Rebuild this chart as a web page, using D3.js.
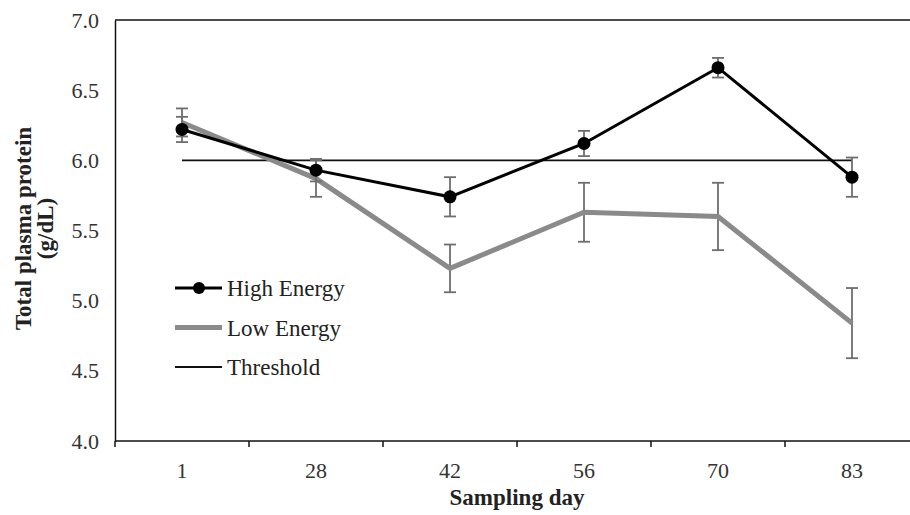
<!DOCTYPE html>
<html>
<head>
<meta charset="utf-8">
<script src="https://cdn.jsdelivr.net/npm/d3@7"></script>
<style>
  body { margin: 0; background: #fff; }
  text { font-family: "Liberation Serif", "Times New Roman", serif; }
</style>
</head>
<body>
<div id="chart"></div>
<script>
// sampling days and series
const days = ["1", "28", "42", "56", "70", "83"];
const highEnergy = [6.22, 5.93, 5.74, 6.12, 6.66, 5.88];
const highErr = [0.09, 0.08, 0.14, 0.09, 0.07, 0.14];
const lowEnergy = [6.27, 5.87, 5.23, 5.63, 5.60, 4.84];
const lowErr = [0.10, 0.13, 0.17, 0.21, 0.24, 0.25];
const threshold = [6.0, 6.0, 6.0, 6.0, 6.0, 6.0];
const yTicks = [4.0, 4.5, 5.0, 5.5, 6.0, 6.5, 7.0];

const margin = {top: 20, right: -9, bottom: 74, left: 115},
    width = 910 - margin.left - margin.right,
    height = 515 - margin.top - margin.bottom;

const svg = d3.select("#chart")
  .append("svg")
    .attr("width", 910)
    .attr("height", 515)
  .append("g")
    .attr("transform", `translate(${margin.left},${margin.top})`);

const x = d3.scaleBand()
    .domain(days)
    .range([0, width]);

const y = d3.scaleLinear()
    .domain([4, 7])
    .range([height, 0]);

const cx = d => x(d) + x.bandwidth() / 2;

// frame (top and left)
svg.append("line")
    .attr("x1", 0).attr("x2", width)
    .attr("y1", 0).attr("y2", 0)
    .attr("stroke", "#111").attr("stroke-width", 1.5);

svg.append("g")
    .call(d3.axisLeft(y).tickValues(yTicks).tickFormat(d3.format(".1f")).tickSize(0).tickPadding(16))
    .call(g => g.select(".domain").attr("stroke", "#111").attr("stroke-width", 1.5))
    .call(g => g.selectAll("text")
        .attr("font-family", "Liberation Serif")
        .attr("font-size", "22px")
        .attr("fill", "#333"));

// x axis with ticks at category boundaries
const xAxis = svg.append("g")
    .attr("transform", `translate(0,${height})`);
xAxis.append("line")
    .attr("x1", 0).attr("x2", width)
    .attr("stroke", "#111").attr("stroke-width", 1.5);
xAxis.selectAll(".bound")
  .data(days)
  .enter()
  .append("line")
    .attr("x1", d => x(d)).attr("x2", d => x(d))
    .attr("y1", 0).attr("y2", 6)
    .attr("stroke", "#111").attr("stroke-width", 1.5);
xAxis.selectAll(".lbl")
  .data(days)
  .enter()
  .append("text")
    .attr("x", d => cx(d))
    .attr("y", 37)
    .attr("text-anchor", "middle")
    .attr("font-size", "22px")
    .attr("fill", "#333")
    .text(d => d);

// threshold
svg.append("path")
    .datum(threshold)
    .attr("d", d3.line().x((d, i) => cx(days[i])).y(d => y(d)))
    .attr("fill", "none")
    .attr("stroke", "#111")
    .attr("stroke-width", 1.8);

function errorBars(values, errs) {
  const g = svg.append("g")
      .attr("stroke", "#6e6e6e")
      .attr("stroke-width", 1.8);
  values.forEach((v, i) => {
    const px = cx(days[i]);
    g.append("line")
        .attr("x1", px).attr("x2", px)
        .attr("y1", y(v + errs[i])).attr("y2", y(v - errs[i]));
    [v + errs[i], v - errs[i]].forEach(e => {
      g.append("line")
          .attr("x1", px - 6).attr("x2", px + 6)
          .attr("y1", y(e)).attr("y2", y(e));
    });
  });
}

// low energy
errorBars(lowEnergy, lowErr);
svg.append("path")
    .datum(lowEnergy)
    .attr("d", d3.line().x((d, i) => cx(days[i])).y(d => y(d)))
    .attr("fill", "none")
    .attr("stroke", "#8a8a8a")
    .attr("stroke-width", 5);

// high energy
errorBars(highEnergy, highErr);
svg.append("path")
    .datum(highEnergy)
    .attr("d", d3.line().x((d, i) => cx(days[i])).y(d => y(d)))
    .attr("fill", "none")
    .attr("stroke", "#000")
    .attr("stroke-width", 3);
svg.selectAll(".dot")
  .data(highEnergy)
  .enter()
  .append("circle")
    .attr("cx", (d, i) => cx(days[i]))
    .attr("cy", d => y(d))
    .attr("r", 6.5)
    .attr("fill", "#000");

// legend
const legend = svg.append("g").attr("transform", "translate(60,268)");
const items = [
  {name: "High Energy", color: "#000", w: 3, dot: true},
  {name: "Low Energy", color: "#8a8a8a", w: 5, dot: false},
  {name: "Threshold", color: "#111", w: 1.8, dot: false}
];
items.forEach((it, i) => {
  const g = legend.append("g").attr("transform", `translate(0,${i * 39.5})`);
  g.append("line")
      .attr("x1", 0).attr("x2", 47)
      .attr("stroke", it.color).attr("stroke-width", it.w);
  if (it.dot) g.append("circle").attr("cx", 24).attr("r", 6).attr("fill", "#000");
  g.append("text")
      .attr("x", 52).attr("y", 8)
      .attr("font-size", "23px")
      .attr("fill", "#222")
      .text(it.name);
});

// axis titles
svg.append("text")
    .attr("x", 402)
    .attr("y", height + 64)
    .attr("text-anchor", "middle")
    .attr("font-size", "23px")
    .attr("font-weight", "bold")
    .attr("fill", "#222")
    .text("Sampling day");

const yt = svg.append("text")
    .attr("transform", `translate(-84,${height / 2 - 2}) rotate(-90)`)
    .attr("text-anchor", "middle")
    .attr("font-size", "23px")
    .attr("font-weight", "bold")
    .attr("fill", "#222");
yt.append("tspan").attr("x", 0).attr("dy", 0).text("Total plasma protein");
yt.append("tspan").attr("x", 0).attr("dy", 22).text("(g/dL)");
</script>
</body>
</html>
